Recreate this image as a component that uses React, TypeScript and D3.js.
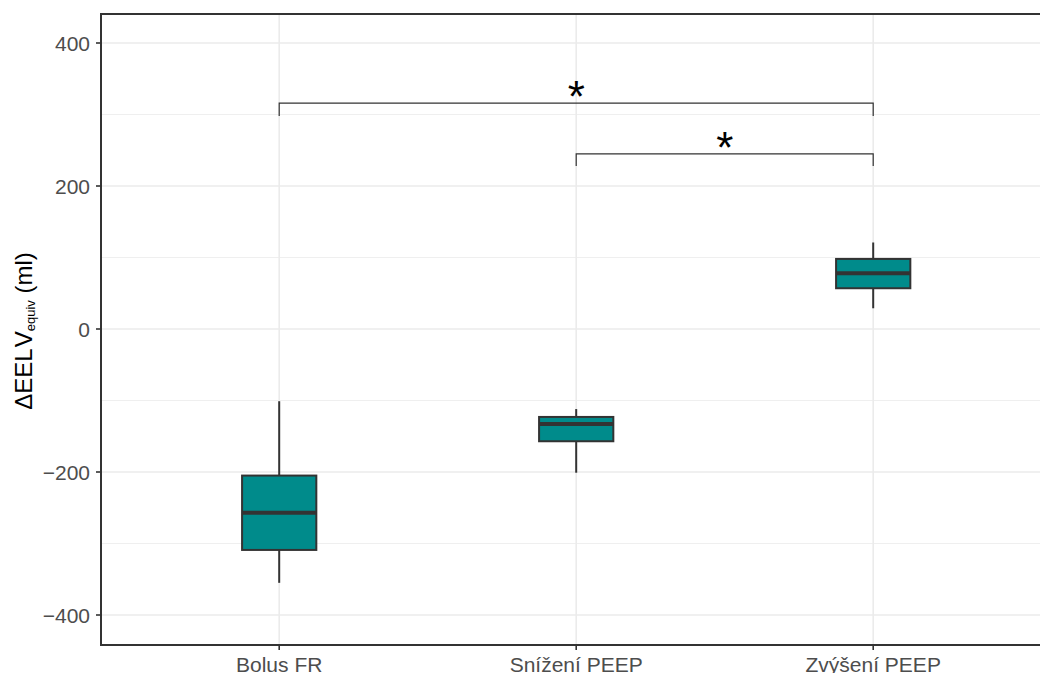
import React from "react";
import * as d3 from "d3";

const categories = ["Bolus FR", "Snížení PEEP", "Zvýšení PEEP"];
const whiskerLow = [-355, -201, 29];
const q1 = [-309, -157, 57];
const median = [-257, -133, 78];
const q3 = [-205, -123, 98];
const whiskerHigh = [-101, -112, 121];
const yTicks = [-400, -200, 0, 200, 400];
const yMinor = [-300, -100, 100, 300];
const comparisons = [
  { from: 0, to: 2, y: 316, tip: 298, label: "*" },
  { from: 1, to: 2, y: 245, tip: 228, label: "*" },
];

const W = 1040, H = 673;
const left = 101, top = 14, bottom = 645;

export default function App() {
  const step = 297;
  const right = left + step * 3.2;
  const x = d3.scalePoint<string>().domain(categories).range([left + 0.6 * step, right - 0.6 * step]);
  const y = d3.scaleLinear().domain([-400, 400]).range([615, 43]);
  const bw = step * 0.25;
  const font = "'Liberation Sans', Arial, sans-serif";
  return (
    <svg width={W} height={H} style={{ position: "absolute", left: 0, top: 0 }} fontFamily={font}>
      <rect x={0} y={0} width={W} height={H} fill="#fff" />
      <g>
        {yMinor.map((v) => (
          <line key={"m" + v} x1={left} x2={right} y1={y(v)} y2={y(v)} stroke="#EBEBEB" strokeWidth={0.8} />
        ))}
        {yTicks.map((v) => (
          <line key={"g" + v} x1={left} x2={right} y1={y(v)} y2={y(v)} stroke="#EBEBEB" strokeWidth={1.6} />
        ))}
        {categories.map((c) => (
          <line key={"gx" + c} x1={x(c)} x2={x(c)} y1={top} y2={bottom} stroke="#EBEBEB" strokeWidth={1.6} />
        ))}
      </g>
      {categories.map((c, i) => {
        const cx = x(c)!;
        return (
          <g key={c}>
            <line x1={cx} x2={cx} y1={y(whiskerHigh[i])} y2={y(q3[i])} stroke="#333" strokeWidth={2} />
            <line x1={cx} x2={cx} y1={y(q1[i])} y2={y(whiskerLow[i])} stroke="#333" strokeWidth={2} />
            <rect x={cx - bw / 2} y={y(q3[i])} width={bw} height={y(q1[i]) - y(q3[i])} fill="#008B8B" stroke="#333" strokeWidth={2} />
            <line x1={cx - bw / 2} x2={cx + bw / 2} y1={y(median[i])} y2={y(median[i])} stroke="#333" strokeWidth={4} />
          </g>
        );
      })}
      {comparisons.map((cmp, i) => {
        const x1 = x(categories[cmp.from])!, x2 = x(categories[cmp.to])!;
        return (
          <g key={"c" + i}>
            <path d={`M${x1},${y(cmp.tip)}V${y(cmp.y)}H${x2}V${y(cmp.tip)}`} fill="none" stroke="#333" strokeWidth={1.2} />
            <text x={(x1 + x2) / 2} y={y(cmp.y) + 9} textAnchor="middle" fontSize={44} fill="#000">{cmp.label}</text>
          </g>
        );
      })}
      <rect x={left} y={top} width={right - left} height={bottom - top} fill="none" stroke="#333" strokeWidth={2} />
      {yTicks.map((v) => (
        <g key={"t" + v}>
          <line x1={left - 5} x2={left} y1={y(v)} y2={y(v)} stroke="#333" strokeWidth={1.6} />
          <text x={left - 11} y={y(v)} dy="0.36em" textAnchor="end" fontSize={21} fill="#4D4D4D">{v < 0 ? "\u2212" + Math.abs(v) : String(v)}</text>
        </g>
      ))}
      {categories.map((c) => (
        <g key={"xt" + c}>
          <line x1={x(c)} x2={x(c)} y1={bottom} y2={bottom + 5} stroke="#333" strokeWidth={1.6} />
          <text x={x(c)} y={bottom + 27} textAnchor="middle" fontSize={21} fill="#4D4D4D">{c}</text>
        </g>
      ))}
      <text transform={`translate(32,${331}) rotate(-90)`} textAnchor="middle" fontSize={24} fill="#000">
        ΔEEL<tspan dx={3}>V</tspan><tspan fontSize={13} dy={3}>equiv</tspan><tspan dy={-3}> (ml)</tspan>
      </text>
    </svg>
  );
}
